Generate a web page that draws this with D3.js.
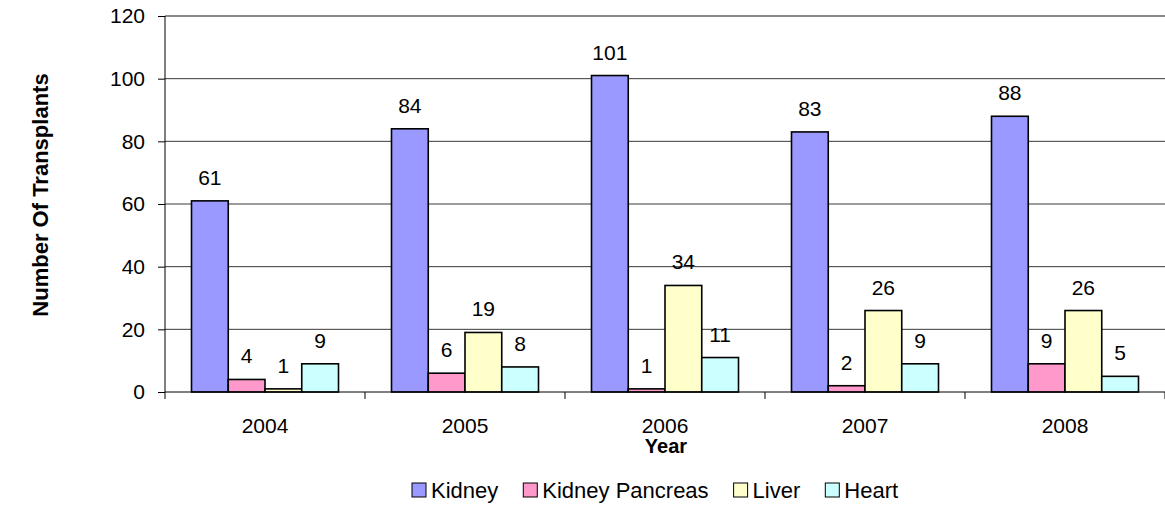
<!DOCTYPE html>
<html>
<head>
<meta charset="utf-8">
<script src="https://cdn.jsdelivr.net/npm/d3@7"></script>
<style>
  body { margin: 0; background: #fff; }
  text { font-family: Arial, "Liberation Sans", sans-serif; }
</style>
</head>
<body>
<svg id="chart"></svg>
<script>
const width = 1165;
const height = 508;

// data
const years = ["2004", "2005", "2006", "2007", "2008"];
const series = ["Kidney", "Kidney Pancreas", "Liver", "Heart"];
const kidney = [61, 84, 101, 83, 88];
const kidneyPancreas = [4, 6, 1, 2, 9];
const liver = [1, 19, 34, 26, 26];
const heart = [9, 8, 11, 9, 5];
const yTicks = [0, 20, 40, 60, 80, 100, 120];

const colors = ["#9999ff", "#ff99cc", "#ffffcc", "#ccffff"];
const values = [kidney, kidneyPancreas, liver, heart];

var svg = d3.select("#chart")
    .attr("width", width)
    .attr("height", height);

// plot area
const plotLeft = 165, plotRight = 1165, plotTop = 16, plotBottom = 392;

var y = d3.scaleLinear().domain([0, 120]).range([plotBottom, plotTop]);

var x0 = d3.scaleBand()
    .domain(years)
    .range([plotLeft, plotRight])
    .paddingInner(0.265)
    .paddingOuter(0.1325);

var x1 = d3.scaleBand()
    .domain(series)
    .range([0, x0.bandwidth()]);

// gridlines
svg.append("g").selectAll("line")
    .data(yTicks.filter(d => d > 0))
    .enter().append("line")
    .attr("x1", plotLeft).attr("x2", plotRight)
    .attr("y1", d => y(d)).attr("y2", d => y(d))
    .attr("stroke", d => d === 120 ? "#8a8a8a" : "#3a3a3a")
    .attr("stroke-width", d => d === 120 ? 2 : 1);

// y axis
var yAxis = svg.append("g")
    .attr("transform", `translate(${plotLeft},0)`)
    .call(d3.axisLeft(y).tickValues(yTicks).tickSize(7).tickPadding(13));
yAxis.select(".domain").attr("stroke", "#000").attr("d", `M0,${plotTop}V${plotBottom}`);
yAxis.selectAll(".tick line").attr("stroke", "#000");
yAxis.selectAll(".tick text")
    .style("font-family", "Arial, 'Liberation Sans', sans-serif")
    .style("font-size", "21px")
    .attr("fill", "#000");

// bars
var groups = svg.append("g").selectAll("g")
    .data(years)
    .enter().append("g")
    .attr("transform", d => `translate(${x0(d)},0)`);

groups.selectAll("rect")
    .data((d, i) => series.map((s, j) => ({ s: s, j: j, v: values[j][i] })))
    .enter().append("rect")
    .attr("x", d => x1(d.s))
    .attr("width", x1.bandwidth())
    .attr("y", d => y(d.v))
    .attr("height", d => plotBottom - y(d.v))
    .attr("fill", d => colors[d.j])
    .attr("stroke", "#000")
    .attr("stroke-width", 1.6);

groups.selectAll("text")
    .data((d, i) => series.map((s, j) => ({ s: s, j: j, v: values[j][i] })))
    .enter().append("text")
    .attr("x", d => x1(d.s) + x1.bandwidth() / 2)
    .attr("y", d => y(d.v) - 16)
    .attr("text-anchor", "middle")
    .style("font-size", "21px")
    .text(d => d.v);

// x axis
var xAxis = svg.append("g");
xAxis.append("line")
    .attr("x1", plotLeft).attr("x2", plotRight)
    .attr("y1", plotBottom).attr("y2", plotBottom)
    .attr("stroke", "#000");
xAxis.selectAll(".tk")
    .data(d3.range(years.length + 1))
    .enter().append("line")
    .attr("class", "tk")
    .attr("x1", i => plotLeft + i * x0.step()).attr("x2", i => plotLeft + i * x0.step())
    .attr("y1", plotBottom).attr("y2", plotBottom + 7)
    .attr("stroke", "#000");
xAxis.selectAll("text")
    .data(years)
    .enter().append("text")
    .attr("x", d => x0(d) + x0.bandwidth() / 2)
    .attr("y", 433)
    .attr("text-anchor", "middle")
    .style("font-size", "21px")
    .text(d => d);

// axis titles
svg.append("text")
    .attr("x", 666).attr("y", 453)
    .attr("text-anchor", "middle")
    .style("font-size", "20px")
    .style("font-weight", "bold")
    .text("Year");

svg.append("text")
    .attr("transform", "translate(48,195) rotate(-90)")
    .attr("text-anchor", "middle")
    .style("font-size", "22px")
    .style("font-weight", "bold")
    .text("Number Of Transplants");

// legend
var legend = svg.append("g");
var lx = 0;
var items = legend.selectAll("g")
    .data(series)
    .enter().append("g");
items.append("rect")
    .attr("width", 14).attr("height", 14)
    .attr("y", -7)
    .attr("fill", (d, i) => colors[i])
    .attr("stroke", "#000");
items.append("text")
    .attr("x", 19)
    .attr("y", 8)
    .style("font-size", "22px")
    .text(d => d);
items.each(function() {
    const w = this.getBBox().width;
    d3.select(this).attr("transform", `translate(${lx},0)`);
    lx += w + 25;
});
legend.attr("transform", "translate(412,490)");
</script>
</body>
</html>
